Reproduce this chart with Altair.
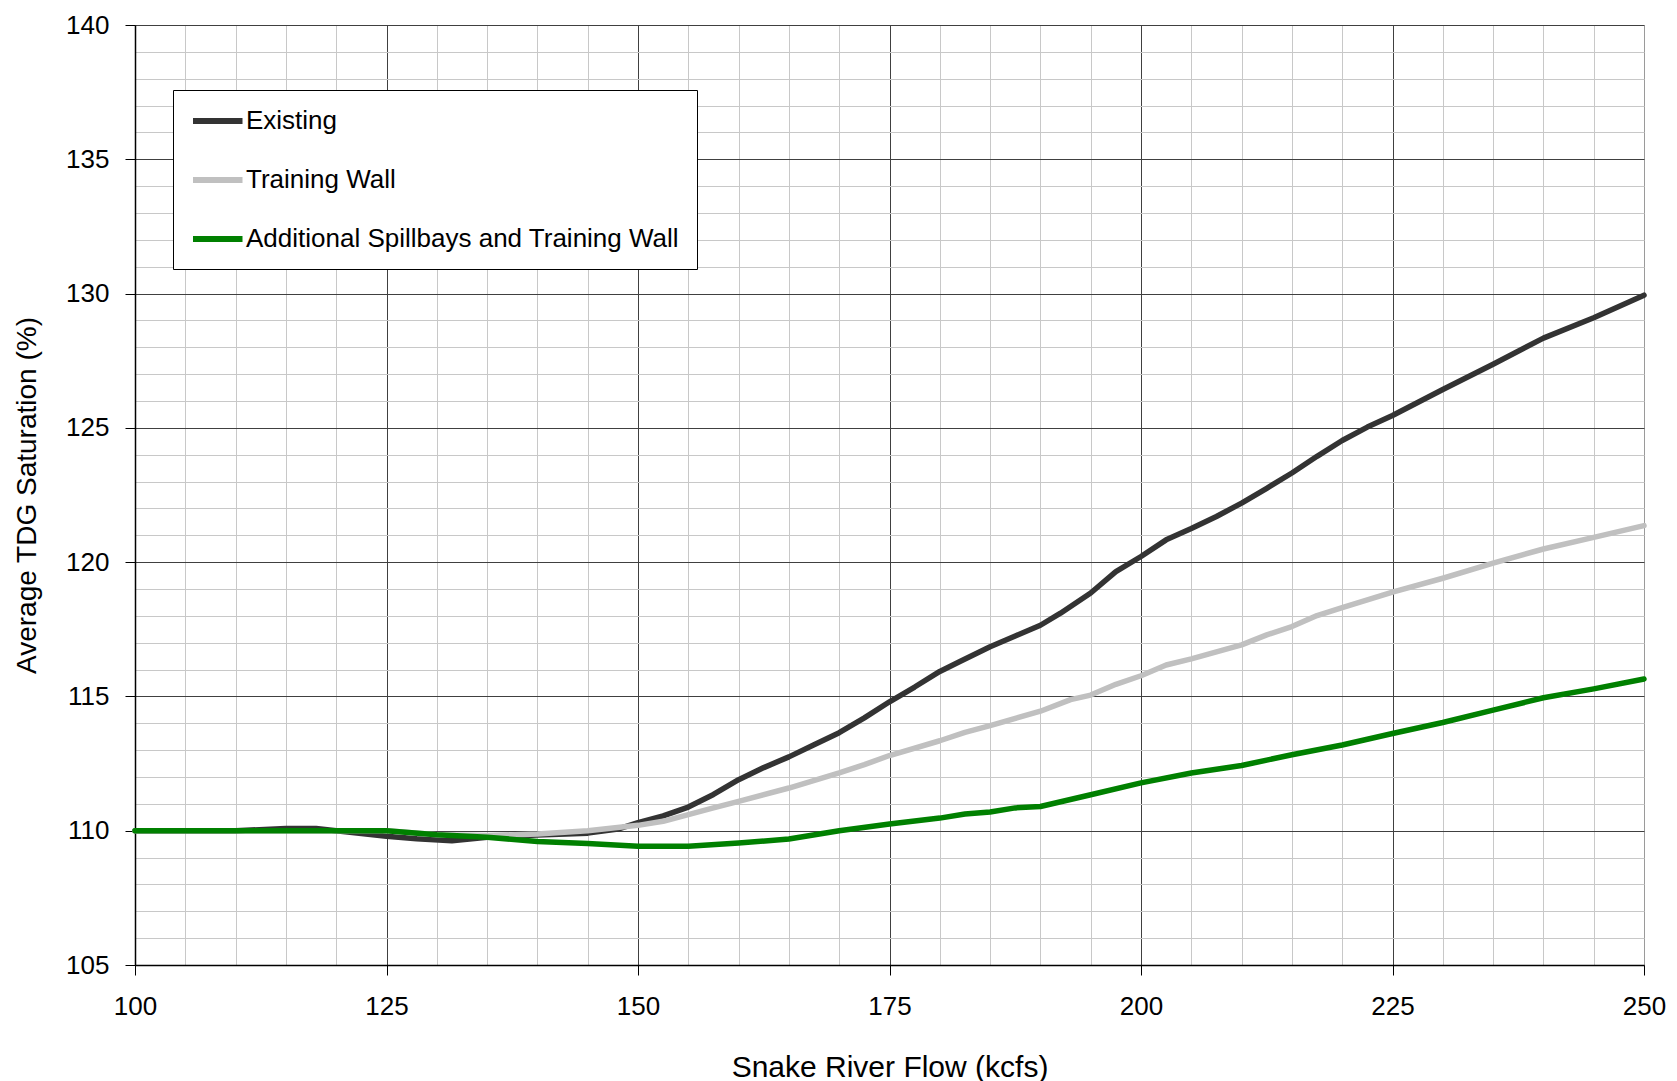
import altair as alt
import pandas as pd

names = ["Existing", "Training Wall", "Additional Spillbays and Training Wall"]
colors = ["#333333", "#c0c0c0", "#008000"]

ex_x = [100, 105, 110, 115, 118, 120, 125, 128, 131.5, 135, 140, 145, 148, 150, 152.5, 155, 157.5,
        160, 162.5, 165, 167.5, 170, 172.5, 175, 177.5, 180, 182, 185, 187.5, 190, 192, 195, 197.5,
        200, 202.5, 205, 207.5, 210, 212.5, 215, 217.5, 220, 222.5, 225, 230, 235, 240, 245, 250]
ex_y = [110.0, 110.0, 110.0, 110.08, 110.08, 110.0, 109.79, 109.7, 109.63, 109.76, 109.84, 109.91, 110.06, 110.3, 110.55, 110.88, 111.35,
        111.9, 112.35, 112.75, 113.2, 113.65, 114.2, 114.8, 115.35, 115.93, 116.3, 116.85, 117.25, 117.65, 118.1, 118.85, 119.65,
        120.21, 120.83, 121.25, 121.7, 122.2, 122.75, 123.32, 123.94, 124.53, 125.03, 125.46, 126.43, 127.37, 128.34, 129.1, 129.94]

tw_x = [100, 110, 120, 125, 130, 135, 140, 145, 150, 152.5, 155, 157.5, 160, 165, 170, 172.5, 175, 180,
        182.5, 185, 190, 193, 195, 197.5, 200, 202.5, 205, 210, 212.5, 215, 217.5, 220, 225, 230, 235,
        240, 245, 250]
tw_y = [110.0, 110.0, 110.0, 110.0, 109.85, 109.82, 109.88, 110.0, 110.2, 110.35, 110.6, 110.85, 111.09, 111.59, 112.15, 112.46, 112.8, 113.35,
        113.66, 113.91, 114.45, 114.88, 115.05, 115.45, 115.77, 116.17, 116.4, 116.92, 117.29, 117.6, 118.01, 118.31, 118.88, 119.4, 119.96,
        120.49, 120.92, 121.36]

as_x = [100, 105, 110, 115, 120, 125, 130, 135, 140, 145, 150, 155, 160, 165, 170, 175, 180, 182.5,
        185, 187.5, 190, 195, 200, 205, 210, 215, 220, 225, 230, 235, 240, 245, 250]
as_y = [110.0, 110.0, 110.0, 110.0, 110.0, 110.0, 109.85, 109.76, 109.6, 109.52, 109.42, 109.42, 109.54, 109.69, 110.0, 110.25, 110.47, 110.62,
        110.7, 110.85, 110.9, 111.34, 111.78, 112.15, 112.43, 112.83, 113.19, 113.62, 114.03, 114.49, 114.95, 115.28, 115.65]

x_ticks = list(range(100, 251, 5))
y_ticks = list(range(105, 141))

rows = []
for n, xs, ys in zip(names, [ex_x, tw_x, as_x], [ex_y, tw_y, as_y]):
    for a, b in zip(xs, ys):
        rows.append({"series": n, "flow": a, "tdg": b})
df = pd.DataFrame(rows)

FONT = "Liberation Sans"

x_axis = alt.Axis(
    values=x_ticks,
    labelExpr="datum.value % 25 == 0 ? datum.label : ''",
    labelFlush=False, labelOverlap=False,
    grid=True,
    gridColor={"condition": [{"test": "datum.value == 250", "value": "#9a9a9a"},
                             {"test": "datum.value % 25 == 0", "value": "#404040"}],
               "value": "#c8c8c8"},
    gridWidth=1,
    tickOpacity={"condition": {"test": "datum.value % 25 == 0", "value": 1}, "value": 0},
    tickSize=10, tickColor="black",
    domainColor="black", domainWidth=1.5,
    labelFontSize=26, labelFont=FONT, labelColor="black", labelPadding=18,
    title="Snake River Flow (kcfs)", titleFontSize=30, titleFont=FONT,
    titleFontWeight="normal", titleColor="black", titlePadding=33,
)
y_axis = alt.Axis(
    values=y_ticks,
    labelExpr="datum.value % 5 == 0 ? datum.label : ''",
    labelFlush=False, labelOverlap=False,
    grid=True,
    gridColor={"condition": {"test": "datum.value % 5 == 0", "value": "#404040"}, "value": "#c8c8c8"},
    gridWidth=1,
    tickOpacity={"condition": {"test": "datum.value % 5 == 0", "value": 1}, "value": 0},
    tickSize=10, tickColor="black",
    domainColor="black", domainWidth=1.5,
    labelFontSize=26, labelFont=FONT, labelColor="black", labelPadding=16,
    title="Average TDG Saturation (%)", titleFontSize=28, titleFont=FONT,
    titleFontWeight="normal", titleColor="black", titlePadding=24,
)

legend = alt.Legend(
    orient="none", legendX=38, legendY=65, title=None,
    symbolType="M-1,0H3.5", symbolSize=484, symbolStrokeWidth=6,
    labelFontSize=26, labelFont=FONT, labelColor="black", labelOffset=28, labelLimit=0,
    rowPadding=32, padding=17, strokeColor="black", fillColor="white",
    direction="vertical",
)

enc = dict(
    x=alt.X("flow:Q", scale=alt.Scale(domain=[100, 250], nice=False, zero=False), axis=x_axis),
    y=alt.Y("tdg:Q", scale=alt.Scale(domain=[105, 140], nice=False, zero=False), axis=y_axis),
    color=alt.Color("series:N", scale=alt.Scale(domain=names, range=colors), legend=legend, sort=names),
    order=alt.Order("flow:Q"),
)

layers = []
for n in names:
    layers.append(
        alt.Chart(df).transform_filter(alt.datum.series == n)
        .mark_line(strokeWidth=5.5, strokeJoin="round", strokeCap="round").encode(**enc)
    )

chart = alt.layer(*layers).properties(
    width=1509, height=940,
    autosize=alt.AutoSizeParams(type="none"),
    padding={"left": 127, "top": 17, "right": 22, "bottom": 120},
).configure_view(stroke=None).configure(background="white")

chart.save("out.html", embed_options={"renderer": "svg", "actions": False})
